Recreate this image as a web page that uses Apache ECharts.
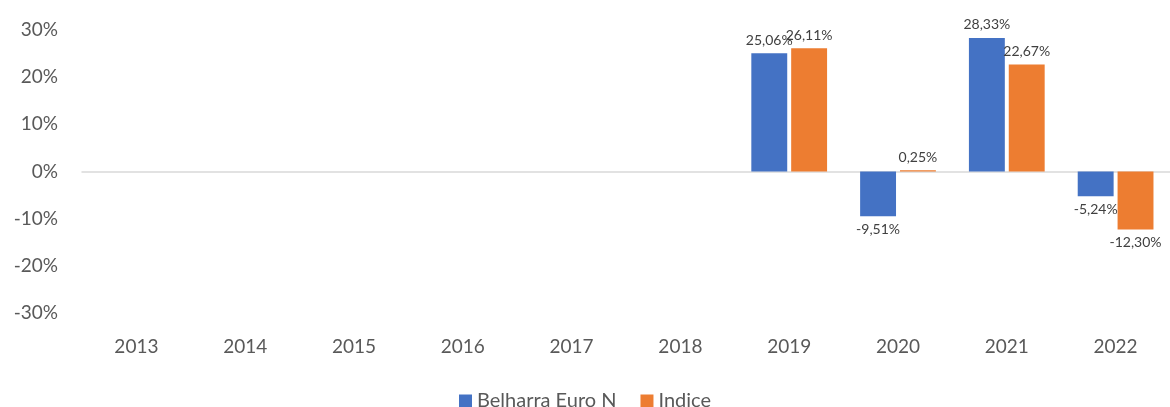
<!DOCTYPE html>
<html>
<head>
<meta charset="utf-8">
<script src="https://cdn.jsdelivr.net/npm/echarts@6/dist/echarts.min.js"></script>
<style>
  html, body { margin: 0; padding: 0; background: #fff; }
  #chart { width: 1170px; height: 407px; }
</style>
</head>
<body>
<div id="chart"></div>
<script>
// années
const years = ['2013', '2014', '2015', '2016', '2017', '2018', '2019', '2020', '2021', '2022']
// performances annuelles (%)
const belharra = [null, null, null, null, null, null, 25.06, -9.51, 28.33, -5.24]
const indice = [null, null, null, null, null, null, 26.11, 0.25, 22.67, -12.30]
const seriesNames = ['Belharra Euro N', 'Indice']

const fontFamily = 'Lato, "Open Sans", sans-serif'

function fmt(v) {
  return v.toFixed(2).replace('.', ',') + '%'
}

// label au-dessus pour les valeurs positives, en dessous pour les négatives
function toData(arr) {
  return arr.map(function (v) {
    if (v === null) return null
    return { value: v, label: { position: v < 0 ? 'bottom' : 'top' } }
  })
}

let myChart = echarts.init(document.getElementById('chart'))
let option = {
  backgroundColor: '#ffffff',
  animation: false,
  color: ['#4472C4', '#ED7D31'],
  grid: {
    left: 82,
    right: 0,
    top: 30,
    bottom: 94
  },
  legend: {
    data: seriesNames,
    top: 386,
    left: 'center',
    icon: 'rect',
    itemWidth: 13,
    itemHeight: 13,
    itemGap: 24,
    textStyle: { color: '#595959', fontSize: 20, fontFamily: fontFamily }
  },
  xAxis: {
    type: 'category',
    data: years,
    axisLine: { show: true, lineStyle: { color: '#d9d9d9', width: 1.5 } },
    axisTick: { show: false },
    axisLabel: { color: '#595959', fontSize: 19, fontFamily: fontFamily, margin: 24 }
  },
  yAxis: {
    type: 'value',
    min: -30,
    max: 30,
    interval: 10,
    axisLine: { show: false },
    axisTick: { show: false },
    splitLine: { show: false },
    axisLabel: {
      color: '#595959',
      fontSize: 19,
      fontFamily: fontFamily,
      margin: 24,
      formatter: function (v) { return v + '%' }
    }
  },
  series: [
    {
      name: seriesNames[0],
      type: 'bar',
      data: toData(belharra),
      barWidth: '33%',
      barGap: '11%',
      label: {
        show: true,
        distance: 6,
        color: '#404040',
        fontSize: 14,
        fontFamily: fontFamily,
        formatter: function (p) { return fmt(p.value) }
      }
    },
    {
      name: seriesNames[1],
      type: 'bar',
      data: toData(indice),
      barWidth: '33%',
      barGap: '11%',
      label: {
        show: true,
        distance: 6,
        color: '#404040',
        fontSize: 14,
        fontFamily: fontFamily,
        formatter: function (p) { return fmt(p.value) }
      }
    }
  ]
}
myChart.setOption(option)
</script>
</body>
</html>
